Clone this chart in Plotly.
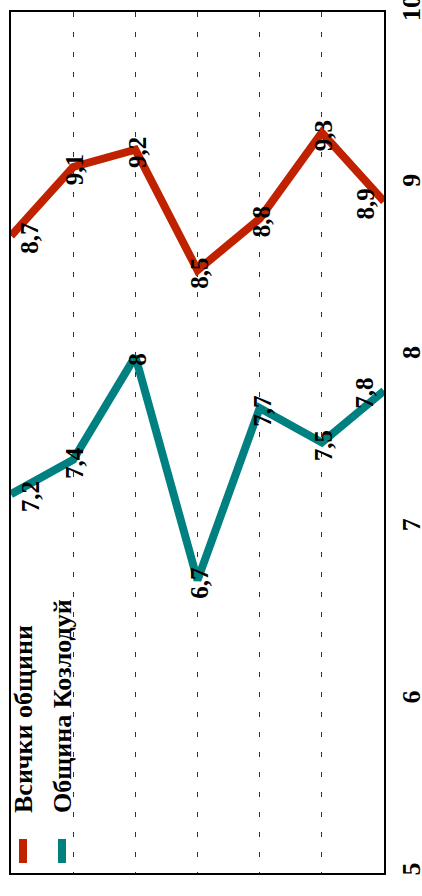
import plotly.graph_objects as go

# Data
categories = [1, 2, 3, 4, 5, 6, 7]
all_municipalities = [8.7, 9.1, 9.2, 8.5, 8.8, 9.3, 8.9]
kozloduy = [7.2, 7.4, 8.0, 6.7, 7.7, 7.5, 7.8]
label_all = ["8,7", "9,1", "9,2", "8,5", "8,8", "9,3", "8,9"]
label_koz = ["7,2", "7,4", "8", "6,7", "7,7", "7,5", "7,8"]
series_names = ["Всички общини", "Община Козлодуй"]
y_ticks = [5, 6, 7, 8, 9, 10]

RED = "#C02200"
TEAL = "#008080"
FONT = "Liberation Serif, Times New Roman, serif"

W, H = 422, 896
ML, MR, MT, MB = 11, 38, 12, 23
PW, PH = W - ML - MR, H - MT - MB

def px2paper_x(px):
    return (px - ML) / PW

def px2paper_y(py):
    return (H - MB - py) / PH

fig = go.Figure()
for vals, color, name in [(all_municipalities, RED, series_names[0]),
                          (kozloduy, TEAL, series_names[1])]:
    fig.add_trace(go.Scatter(
        x=categories, y=vals, mode="lines", name=name,
        line=dict(color=color, width=8), showlegend=False,
    ))

annotations = []
n = len(categories)
for vals, labels in [(all_municipalities, label_all), (kozloduy, label_koz)]:
    for i, (c, v, t) in enumerate(zip(categories, vals, labels)):
        shift = 19 if i == 0 else (-19 if i == n - 1 else 2)
        annotations.append(dict(
            x=c, y=v, xref="x", yref="y", text=t, showarrow=False,
            textangle=-90, xshift=shift, yshift=-3,
            font=dict(family=FONT, size=25, color="black", weight="bold"),
        ))

# Rotated legend
shapes = []
for k, (name, color, px) in enumerate([(series_names[0], RED, 23), (series_names[1], TEAL, 62)]):
    shapes.append(dict(
        type="line", xref="paper", yref="paper",
        x0=px2paper_x(px), x1=px2paper_x(px),
        y0=px2paper_y(839), y1=px2paper_y(863),
        line=dict(color=color, width=8),
    ))
    annotations.append(dict(
        x=px2paper_x(px), y=px2paper_y(815), xref="paper", yref="paper",
        text=name, showarrow=False, textangle=-90,
        xanchor="center", yanchor="bottom",
        font=dict(family=FONT, size=26, color="black", weight="bold"),
    ))

fig.update_layout(
    width=W, height=H,
    margin=dict(l=ML, r=MR, t=MT, b=MB, autoexpand=False),
    paper_bgcolor="white", plot_bgcolor="white",
    showlegend=False,
    annotations=annotations,
    shapes=shapes,
    xaxis=dict(
        range=[categories[0], categories[-1]], tickvals=categories,
        showticklabels=False, ticks="", automargin=False,
        showgrid=True, gridcolor="#333333", gridwidth=1, griddash="5px,15px",
        showline=True, linecolor="black", linewidth=2, mirror=True,
        zeroline=False, fixedrange=True,
    ),
    yaxis=dict(
        range=[y_ticks[0], y_ticks[-1]], tickvals=y_ticks,
        ticktext=[str(t) for t in y_ticks], automargin=False,
        side="right", tickangle=-90, ticks="", ticklabelstandoff=3,
        ticklabeloverflow="allow",
        tickfont=dict(family=FONT, size=26, color="black", weight="bold"),
        showgrid=False,
        showline=True, linecolor="black", linewidth=2, mirror=True,
        zeroline=False, fixedrange=True,
    ),
)

fig.write_html(
    "out.html",
    config={"displayModeBar": False},
    post_script="document.body.style.margin='0';document.body.style.overflow='hidden';",
)
